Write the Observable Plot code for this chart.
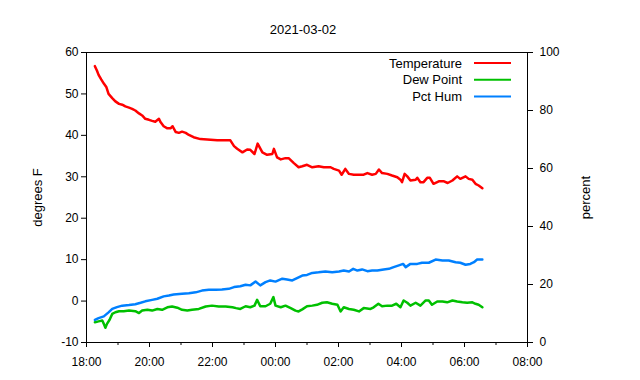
<!DOCTYPE html>
<html><head><meta charset="utf-8">
<script src="https://cdn.jsdelivr.net/npm/d3@7"></script>
<script src="https://cdn.jsdelivr.net/npm/@observablehq/plot@0.6"></script>
<style>
body{margin:0;background:#fff;}
#wrap{position:relative;width:640px;height:380px;font-family:"Liberation Sans",Arial,sans-serif;}
#legend{position:absolute;left:0;top:0;pointer-events:none;}
</style></head><body><div id="wrap"></div>
<script>
const title = "2021-03-02";
const seriesNames = ["Temperature", "Dew Point", "Pct Hum"];
const seriesColors = ["#ff0000", "#00c000", "#0080ff"];
const leftLabel = "degrees F";
const rightLabel = "percent";
const leftTicks = [-10, 0, 10, 20, 30, 40, 50, 60];
const rightTicks = [0, 20, 40, 60, 80, 100];

const tempTimes = ["18:16","18:20","18:23","18:28","18:33","18:38","18:42","18:49","18:55","19:02","19:08","19:14","19:21","19:27","19:33","19:40","19:46","19:52","19:59","20:05","20:11","20:18","20:21","20:27","20:34","20:40","20:44","20:50","20:56","21:02","21:09","21:15","21:24","21:37","21:50","22:09","22:28","22:34","22:41","22:47","22:57","23:06","23:12","23:20","23:26","23:35","23:44","23:54","23:57","00:03","00:10","00:19","00:25","00:35","00:44","00:51","01:00","01:10","01:22","01:32","01:45","01:51","02:01","02:06","02:13","02:20","02:29","02:39","02:48","02:55","03:04","03:11","03:17","03:23","03:33","03:42","03:52","03:58","04:01","04:06","04:11","04:17","04:27","04:30","04:36","04:42","04:49","04:54","05:01","05:11","05:21","05:28","05:37","05:46","05:52","06:02","06:08","06:15","06:21","06:27","06:34"];
const tempValues = [56.7,55.6,54.6,53.5,52.5,51.6,50.0,49.0,48.2,47.6,47.4,47.0,46.7,46.4,46.0,45.3,44.8,44.0,43.75,43.5,43.3,44.0,43.2,42.2,41.7,41.7,42.2,40.8,40.6,40.9,40.6,40.1,39.55,39.1,39.0,38.8,38.8,38.8,37.4,36.75,35.9,36.6,36.5,35.5,38.0,35.9,35.3,35.5,36.75,34.7,34.2,34.5,34.5,33.3,32.3,32.55,32.9,32.3,32.55,32.3,32.3,31.9,31.5,30.5,31.9,30.7,30.5,30.5,30.5,30.9,30.5,30.7,31.75,30.9,30.7,30.3,29.9,29.3,28.7,30.7,30.1,29.1,29.3,29.75,28.7,28.7,29.75,29.75,28.3,28.9,28.9,28.5,29.1,30.1,29.5,30.1,29.5,29.3,28.3,27.9,27.25];

const dewTimes = ["18:16","18:23","18:30","18:33","18:36","18:39","18:44","18:49","18:55","19:02","19:11","19:21","19:33","19:40","19:46","19:56","20:05","20:15","20:24","20:34","20:43","20:53","21:02","21:12","21:21","21:34","21:47","21:59","22:12","22:25","22:38","22:45","22:53","23:03","23:12","23:20","23:25","23:31","23:41","23:50","23:56","00:00","00:10","00:19","00:29","00:38","00:44","00:51","01:00","01:10","01:19","01:29","01:38","01:48","01:58","02:04","02:10","02:20","02:29","02:39","02:48","03:01","03:07","03:16","03:23","03:33","03:42","03:50","03:58","04:04","04:11","04:17","04:27","04:36","04:46","04:52","04:58","05:08","05:18","05:27","05:37","05:46","05:56","06:05","06:15","06:21","06:27","06:34"];
const dewValues = [-5.1,-4.9,-4.7,-5.5,-6.45,-5.5,-4.5,-3.1,-2.7,-2.45,-2.45,-2.3,-2.45,-2.9,-2.3,-2.1,-2.3,-1.9,-2.1,-1.5,-1.3,-1.6,-2.1,-2.3,-2.1,-1.9,-1.3,-1.1,-1.3,-1.3,-1.5,-1.7,-1.9,-1.25,-1.5,-1.1,0.3,-1.25,-1.25,-0.65,0.95,-1.1,-1.5,-1.1,-1.7,-2.3,-2.5,-2.0,-1.25,-1.1,-0.9,-0.4,-0.3,-0.65,-0.9,-2.5,-1.5,-1.9,-2.1,-2.5,-1.7,-1.9,-1.5,-0.65,-1.25,-1.1,-1.1,-0.65,-1.5,0.15,-0.4,-1.1,-0.4,-1.1,0.15,0.15,-0.9,-0.1,-0.1,-0.3,0.15,-0.1,-0.3,-0.4,-0.3,-0.65,-0.9,-1.5];

const humTimes = ["18:16","18:23","18:33","18:42","18:49","18:58","19:08","19:21","19:33","19:43","19:52","20:05","20:15","20:27","20:37","20:46","21:02","21:15","21:28","21:40","21:53","22:06","22:18","22:31","22:41","22:53","23:03","23:12","23:22","23:31","23:41","23:50","00:00","00:13","00:22","00:32","00:41","00:51","01:00","01:10","01:22","01:35","01:48","02:01","02:10","02:20","02:28","02:36","02:45","02:55","03:04","03:14","03:26","03:36","03:45","03:55","04:03","04:08","04:17","04:30","04:39","04:52","05:05","05:18","05:30","05:43","05:52","06:02","06:11","06:18","06:24","06:34"];
const humValues = [7.8,8.4,9.0,10.4,11.6,12.2,12.7,12.9,13.2,13.7,14.2,14.7,15.1,15.9,16.2,16.55,16.8,17.0,17.3,17.9,18.2,18.2,18.3,18.5,19.1,19.4,19.9,19.7,21.0,19.7,20.8,21.4,21.0,22.0,21.7,21.4,22.2,23.1,23.3,24.0,24.2,24.5,24.2,24.5,24.8,24.5,25.4,24.8,25.2,24.6,24.8,24.8,25.2,25.4,26.0,26.6,27.1,26.0,27.1,27.1,27.5,27.5,28.6,28.3,28.3,27.7,27.5,26.8,27.1,27.7,28.6,28.6];

function toDate(s) {
  const [h, m] = s.split(":").map(Number);
  return new Date(Date.UTC(2021, 2, h >= 12 ? 1 : 2, h, m));
}
const yMin = -10, yMax = 60;
const humToY = p => yMin + p * (yMax - yMin) / 100;
const yToHum = v => (v - yMin) * 100 / (yMax - yMin);

const temp = tempTimes.map((t, i) => ({t: toDate(t), v: tempValues[i]}));
const dew = dewTimes.map((t, i) => ({t: toDate(t), v: dewValues[i]}));
const hum = humTimes.map((t, i) => ({t: toDate(t), v: humToY(humValues[i])}));

const xStart = new Date(Date.UTC(2021, 2, 1, 18));
const xEnd = new Date(Date.UTC(2021, 2, 2, 8));
const majorTicks = d3.utcHour.every(2).range(xStart, new Date(+xEnd + 1));
const minorTicks = d3.utcHour.every(1).range(xStart, new Date(+xEnd + 1)).filter(d => d.getUTCHours() % 2 === 1);
const fmt = d3.utcFormat("%H:%M");

const W = 640, H = 380, mL = 86, mR = 113, mT = 52, mB = 38;
const FONT = '"Liberation Sans", Arial, sans-serif';

const chart = Plot.plot({
  width: W, height: H,
  marginLeft: mL, marginRight: mR, marginTop: mT, marginBottom: mB,
  style: {fontSize: "12px", fontFamily: FONT, color: "black", background: "white", overflow: "visible"},
  x: {type: "utc", domain: [xStart, xEnd]},
  y: {domain: [yMin, yMax]},
  marks: [
    Plot.axisY(leftTicks, {anchor: "left", tickSize: 5, tickPadding: 3, label: null, tickFormat: d => String(d)}),
    Plot.axisY(rightTicks.map(humToY), {anchor: "right", tickSize: 5, tickPadding: 7, label: null, tickFormat: v => String(Math.round(yToHum(v)))}),
    Plot.axisX(majorTicks, {anchor: "bottom", tickSize: 5, tickPadding: 10, label: null, tickFormat: fmt}),
    Plot.axisX(minorTicks, {anchor: "bottom", tickSize: 3, label: null, tickFormat: () => ""}),
    Plot.line(temp, {x: "t", y: "v", stroke: seriesColors[0], strokeWidth: 2.5}),
    Plot.line(dew, {x: "t", y: "v", stroke: seriesColors[1], strokeWidth: 2.5}),
    Plot.line(hum, {x: "t", y: "v", stroke: seriesColors[2], strokeWidth: 2.5}),
    Plot.frame({stroke: "black", strokeWidth: 1}),
    Plot.text([title], {frameAnchor: "top", dx: -4, dy: -28, fontSize: 13}),
    Plot.text([leftLabel], {frameAnchor: "left", textAnchor: "middle", dx: -49, rotate: -90, fontSize: 13}),
    Plot.text([rightLabel], {frameAnchor: "right", textAnchor: "middle", dx: 58, rotate: -90, fontSize: 13})
  ]
});
const wrap = document.getElementById("wrap");
wrap.appendChild(chart);

// legend overlay
const ns = "http://www.w3.org/2000/svg";
const lg = document.createElementNS(ns, "svg");
lg.setAttribute("id", "legend");
lg.setAttribute("width", W); lg.setAttribute("height", H);
const right = W - mR;
seriesNames.forEach((name, i) => {
  const cy = mT + 11 + i * 16.7;
  const tx = document.createElementNS(ns, "text");
  tx.setAttribute("x", right - 65);
  tx.setAttribute("y", cy + 4.6);
  tx.setAttribute("text-anchor", "end");
  tx.setAttribute("font-size", "13");
  tx.setAttribute("font-family", FONT);
  tx.textContent = name;
  lg.appendChild(tx);
  const ln = document.createElementNS(ns, "line");
  ln.setAttribute("x1", right - 53); ln.setAttribute("x2", right - 16);
  ln.setAttribute("y1", cy); ln.setAttribute("y2", cy);
  ln.setAttribute("stroke", seriesColors[i]);
  ln.setAttribute("stroke-width", "2");
  lg.appendChild(ln);
});
wrap.appendChild(lg);
</script></body></html>
